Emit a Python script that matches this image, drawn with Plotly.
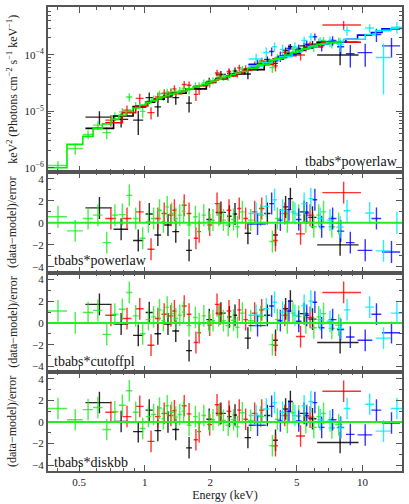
import plotly.graph_objects as go
from plotly.subplots import make_subplots

# --- spectral data (5 instruments) ---
# energy bin centre / half-width (keV), folded model, unfolded flux, flux error,
# then (data-model)/error for tbabs*powerlaw, tbabs*cutoffpl, tbabs*diskbb.

black_e = [0.62, 0.78, 0.935, 1.05, 1.15, 1.28, 1.39, 1.60, 1.98, 2.24, 2.45, 2.60, 2.98, 3.66, 3.99, 4.44, 4.67, 5.40, 5.90, 7.90]
black_de = [0.085, 0.06, 0.05, 0.04, 0.04, 0.05, 0.05, 0.05, 0.06, 0.12, 0.06, 0.06, 0.10, 0.12, 0.10, 0.12, 0.12, 0.25, 0.25, 1.70]
black_model = [5.0e-6, 8.3e-6, 1.2e-5, 1.45e-5, 1.65e-5, 1.9e-5, 2.1e-5, 2.5e-5, 3.25e-5, 3.8e-5, 4.25e-5, 4.6e-5, 5.5e-5, 7.4e-5, 8.4e-5, 9.8e-5, 1.06e-4, 1.28e-4, 1.43e-4, 1.68e-4]
black_flux = [7.9e-6, 7.2e-6, 7.0e-6, 1.75e-5, 1.2e-5, 1.82e-5, 1.75e-5, 1.4e-5, 3.4e-5, 4.5e-5, 4.7e-5, 5.2e-5, 4.6e-5, 8.3e-5, 7.1e-5, 1.2e-4, 1.4e-4, 1.45e-4, 1.55e-4, 1.0e-4]
black_flux_err = [2.1e-6, 2.0e-6, 3.2e-6, 4.0e-6, 4.0e-6, 4.2e-6, 4.4e-6, 4.5e-6, 5.5e-6, 7.0e-6, 7.5e-6, 8.0e-6, 9.0e-6, 1.1e-5, 1.2e-5, 1.5e-5, 1.6e-5, 1.9e-5, 2.2e-5, 3.4e-5]
black_res_pl = [1.36, -0.58, -1.6, 0.8, -1.1, -0.2, -0.8, -2.5, 0.3, 0.95, 0.6, 0.8, -0.95, 0.85, -1.1, 1.45, 2.2, 1.0, 0.5, -2.0]
black_res_cpl = [1.7, -0.1, -1.15, 0.95, -1.0, -0.1, -0.75, -2.55, 0.3, 0.9, 0.55, 0.7, -1.4, 0.7, -1.6, 1.3, 2.0, 0.85, 0.35, -1.8]
black_res_dbb = [1.8, 0.05, -0.9, 1.1, -0.8, 0.0, -0.7, -2.4, 0.25, 0.8, 0.5, 0.65, -1.45, 0.6, -1.7, 1.2, 1.9, 0.8, 0.3, -1.9]

red_e = [0.70, 0.83, 0.95, 1.07, 1.15, 1.23, 1.32, 1.37, 1.52, 1.60, 1.72, 1.78, 1.99, 2.15, 2.22, 2.44, 2.72, 2.91, 3.20, 3.45, 3.99, 4.40, 5.20, 5.75, 8.20]
red_de = [0.04, 0.04, 0.04, 0.04, 0.035, 0.035, 0.035, 0.03, 0.04, 0.04, 0.04, 0.035, 0.05, 0.05, 0.05, 0.06, 0.06, 0.07, 0.10, 0.10, 0.10, 0.15, 0.25, 0.25, 1.65]
red_model = [6.3e-6, 9.5e-6, 1.25e-5, 1.5e-5, 1.65e-5, 1.8e-5, 2.0e-5, 2.05e-5, 2.3e-5, 2.5e-5, 2.7e-5, 2.85e-5, 3.3e-5, 3.6e-5, 3.75e-5, 4.25e-5, 4.85e-5, 5.35e-5, 6.1e-5, 6.8e-5, 8.4e-5, 9.7e-5, 1.22e-4, 1.38e-4, 1.68e-4]
red_flux = [7.0e-6, 1.05e-5, 1.7e-5, 9.5e-6, 1.8e-5, 2.1e-5, 2.15e-5, 2.5e-5, 3.0e-5, 2.9e-5, 2.0e-5, 2.45e-5, 3.2e-5, 4.8e-5, 4.3e-5, 5.1e-5, 5.9e-5, 5.7e-5, 6.7e-5, 7.8e-5, 6.4e-5, 1.1e-4, 1.0e-4, 1.5e-4, 3.4e-4]
red_flux_err = [1.6e-6, 2.2e-6, 3.5e-6, 2.3e-6, 3.5e-6, 3.7e-6, 3.9e-6, 4.0e-6, 4.5e-6, 4.7e-6, 4.8e-6, 5.0e-6, 5.5e-6, 6.5e-6, 6.5e-6, 7.0e-6, 8.0e-6, 8.5e-6, 9.5e-6, 1.1e-5, 1.3e-5, 1.5e-5, 2.0e-5, 2.3e-5, 6.0e-5]
red_res_pl = [0.4, 0.4, 1.0, -2.4, 0.4, 0.85, 0.7, 1.15, 1.6, 0.85, -1.4, -0.8, -0.2, 1.75, 0.85, 1.15, 1.3, 0.4, 1.0, 1.3, -1.6, 0.85, -1.0, 0.7, 2.75]
red_res_cpl = [0.7, 0.4, 1.3, -2.05, 0.4, 0.8, 0.65, 1.1, 1.55, 0.8, -1.8, -0.9, -0.2, 1.7, 0.8, 1.1, 1.2, 0.3, 0.9, 1.2, -2.05, 0.7, -1.25, 0.5, 2.8]
red_res_dbb = [0.9, 0.5, 1.45, -1.8, 0.5, 0.8, 0.6, 1.05, 1.5, 0.75, -1.65, -0.9, -0.25, 1.6, 0.75, 1.0, 1.1, 0.25, 0.8, 1.1, -2.2, 0.6, -1.3, 0.45, 2.85]

green_e = [0.40, 0.48, 0.55, 0.61, 0.67, 0.73, 0.79, 0.85, 0.91, 0.98, 1.04, 1.10, 1.17, 1.22, 1.27, 1.33, 1.39, 1.45, 1.51, 1.60, 1.71, 1.78, 1.87, 1.98, 2.06, 2.19, 2.30, 2.42, 2.56, 2.67, 2.81, 3.07, 3.41, 3.86, 4.07, 4.52, 4.80, 5.10, 5.50, 5.98, 6.30, 6.63, 7.24, 7.78]
green_de = [0.04, 0.04, 0.03, 0.03, 0.03, 0.028, 0.028, 0.028, 0.028, 0.03, 0.028, 0.03, 0.03, 0.025, 0.025, 0.03, 0.03, 0.03, 0.03, 0.04, 0.04, 0.035, 0.045, 0.045, 0.045, 0.06, 0.06, 0.07, 0.07, 0.06, 0.07, 0.10, 0.12, 0.12, 0.11, 0.12, 0.13, 0.14, 0.18, 0.20, 0.15, 0.18, 0.25, 0.30]
green_model = [1.0e-6, 2.6e-6, 3.6e-6, 5.0e-6, 6.0e-6, 7.2e-6, 8.5e-6, 1.0e-5, 1.15e-5, 1.3e-5, 1.42e-5, 1.55e-5, 1.7e-5, 1.8e-5, 1.9e-5, 2.0e-5, 2.1e-5, 2.2e-5, 2.3e-5, 2.5e-5, 2.7e-5, 2.85e-5, 3.0e-5, 3.25e-5, 3.4e-5, 3.7e-5, 3.95e-5, 4.2e-5, 4.5e-5, 4.75e-5, 5.1e-5, 5.8e-5, 6.7e-5, 8.0e-5, 8.7e-5, 1.0e-4, 1.1e-4, 1.2e-4, 1.3e-4, 1.45e-4, 1.52e-4, 1.6e-4, 1.68e-4, 1.7e-4]
green_flux = [1.1e-6, 2.2e-6, 3.9e-6, 5.7e-6, 4.2e-6, 8.2e-6, 9.8e-6, 1.8e-5, 1.25e-5, 1.0e-5, 1.45e-5, 1.65e-5, 2.05e-5, 1.82e-5, 2.2e-5, 2.2e-5, 2.2e-5, 2.35e-5, 2.55e-5, 2.4e-5, 2.85e-5, 2.85e-5, 3.2e-5, 3.3e-5, 3.5e-5, 4.0e-5, 4.05e-5, 4.1e-5, 4.7e-5, 4.6e-5, 5.6e-5, 6.0e-5, 7.4e-5, 6.0e-5, 9.1e-5, 1.02e-4, 1.27e-4, 1.33e-4, 1.32e-4, 1.37e-4, 1.7e-4, 1.8e-4, 1.6e-4, 1.7e-4]
green_flux_err = [0.2e-6, 0.5e-6, 0.7e-6, 1.0e-6, 1.0e-6, 1.4e-6, 1.7e-6, 3.0e-6, 2.2e-6, 2.3e-6, 2.5e-6, 2.6e-6, 3.0e-6, 3.0e-6, 3.2e-6, 3.3e-6, 3.4e-6, 3.5e-6, 3.6e-6, 4.0e-6, 4.2e-6, 4.4e-6, 4.6e-6, 5.0e-6, 5.2e-6, 5.6e-6, 6.0e-6, 6.4e-6, 6.8e-6, 7.2e-6, 7.7e-6, 8.8e-6, 1.0e-5, 1.2e-5, 1.3e-5, 1.5e-5, 1.7e-5, 1.9e-5, 2.1e-5, 2.4e-5, 2.6e-5, 2.8e-5, 3.0e-5, 3.3e-5]
green_res_pl = [0.55, -0.73, 0.4, 0.7, -1.8, 0.7, 0.75, 2.5, 0.4, -1.4, 0.1, 0.4, 1.15, 0.1, 1.45, 0.85, 0.4, 0.7, 1.05, -0.2, 0.55, -0.05, 0.7, 0.1, 0.25, 0.7, 0.25, -0.2, 0.3, -0.35, 1.0, 0.25, 0.7, -1.7, 0.4, 0.1, 1.0, 0.7, 0.1, -0.35, 0.7, 1.0, -0.35, -0.05]
green_res_cpl = [1.1, 0.0, 0.95, 1.15, -1.05, 0.8, 1.25, 2.8, 0.65, -1.0, 0.3, 0.55, 1.2, 0.2, 1.45, 0.85, 0.4, 0.7, 1.0, -0.25, 0.5, -0.1, 0.65, 0.1, 0.2, 0.65, 0.2, -0.25, 0.25, -0.4, 0.9, 0.2, 0.6, -2.0, 0.3, 0.0, 0.9, 0.6, 0.0, -0.45, 0.55, 0.85, -0.5, -0.2]
green_res_dbb = [1.25, 0.2, 1.15, 1.35, -0.7, 0.95, 1.55, 2.9, 0.9, -0.6, 0.5, 0.7, 1.3, 0.3, 1.5, 0.9, 0.45, 0.7, 1.0, -0.3, 0.5, -0.1, 0.6, 0.05, 0.2, 0.6, 0.15, -0.3, 0.2, -0.45, 0.85, 0.15, 0.5, -2.2, 0.25, -0.05, 0.85, 0.55, -0.05, -0.5, 0.5, 0.8, -0.55, -0.25]

blue_e = [3.30, 3.83, 4.20, 4.60, 5.10, 5.55, 6.05, 6.50, 7.30, 7.95, 8.80, 10.3, 11.6, 13.6]
blue_de = [0.30, 0.10, 0.12, 0.12, 0.15, 0.15, 0.15, 0.20, 0.30, 0.30, 0.40, 0.80, 0.60, 1.30]
blue_model = [6.8e-5, 7.9e-5, 9.0e-5, 1.03e-4, 1.2e-4, 1.32e-4, 1.47e-4, 1.58e-4, 1.67e-4, 1.7e-4, 1.9e-4, 2.25e-4, 2.5e-4, 2.9e-4]
blue_flux = [6.7e-5, 1.15e-4, 9.5e-5, 1.3e-4, 1.27e-4, 1.55e-4, 2.1e-4, 1.47e-4, 1.8e-4, 1.4e-4, 1.05e-4, 1.1e-4, 2.3e-4, 1.45e-4]
blue_flux_err = [1.5e-5, 2.0e-5, 2.0e-5, 2.2e-5, 2.4e-5, 2.6e-5, 3.0e-5, 3.2e-5, 3.5e-5, 4.0e-5, 4.5e-5, 4.8e-5, 6.0e-5, 5.5e-5]
blue_res_pl = [-0.1, 1.75, 0.25, 1.2, 0.3, 0.9, 2.1, -0.35, 0.4, -0.75, -1.8, -2.5, 0.4, -2.65]
blue_res_cpl = [-0.25, 1.55, 0.2, 1.1, 0.15, 0.7, 1.9, -0.45, 0.3, -0.6, -1.3, -1.6, 0.8, -0.9]
blue_res_dbb = [-0.3, 1.45, 0.1, 1.0, 0.1, 0.6, 1.8, -0.5, 0.2, -0.5, -1.15, -1.2, 1.1, -0.1]

cyan_e = [3.25, 3.62, 3.95, 4.30, 4.90, 5.40, 5.80, 6.40, 7.10, 7.90, 8.50, 10.8, 12.5, 14.4]
cyan_de = [0.25, 0.12, 0.10, 0.12, 0.15, 0.15, 0.15, 0.20, 0.25, 0.30, 0.30, 0.50, 1.00, 0.90]
cyan_model = [6.4e-5, 7.3e-5, 8.2e-5, 9.3e-5, 1.13e-4, 1.28e-4, 1.4e-4, 1.55e-4, 1.65e-4, 1.72e-4, 1.9e-4, 2.3e-4, 2.7e-4, 2.95e-4]
cyan_flux = [8.5e-5, 1.1e-4, 1.4e-4, 1.25e-4, 1.38e-4, 1.8e-4, 2.1e-4, 1.7e-4, 1.75e-4, 1.55e-4, 2.7e-4, 3.0e-4, 9.0e-5, 3.1e-4]
cyan_flux_err = [2.0e-5, 2.5e-5, 2.7e-5, 2.8e-5, 3.0e-5, 3.0e-5, 3.2e-5, 3.5e-5, 3.8e-5, 4.2e-5, 5.0e-5, 5.0e-5, 7.0e-5, 7.0e-5]
cyan_res_pl = [0.85, 1.5, 2.1, 1.15, 0.85, 1.75, 2.2, 0.4, 0.25, -0.4, 1.1, 0.9, -2.55, 0.0]
cyan_res_cpl = [0.7, 1.3, 1.9, 1.0, 0.7, 1.6, 2.0, 0.3, 0.15, -0.5, 1.2, 1.45, -1.4, 0.9]
cyan_res_dbb = [0.6, 1.2, 1.8, 0.9, 0.6, 1.5, 1.9, 0.2, 0.1, -0.55, 1.25, 1.65, -0.85, 1.25]

MODEL_LABELS = ["tbabs*powerlaw", "tbabs*powerlaw", "tbabs*cutoffpl", "tbabs*diskbb"]
X_TICKS = [0.5, 1, 2, 5, 10]
X_MINOR = [0.4, 0.6, 0.7, 0.8, 0.9, 3, 4, 6, 7, 8, 9]
Y_TICKS = [1e-6, 1e-5, 1e-4]
Y_TICK_TEXT = ["10<sup>−6</sup>", "10<sup>−5</sup>", "10<sup>−4</sup>"]
Y_MINOR = [m * d for d in (1e-6, 1e-5, 1e-4) for m in range(2, 10)]
RES_TICKS = [-4, -2, 0, 2, 4]
RES_TICK_TEXT = ["−4", "−2", "0", "2", "4"]

FONT = "Liberation Serif"
FRAME = "#555555"

datasets = [
    ("rgba(0,0,0,0.85)", "#000000", black_e, black_de, black_model, black_flux, black_flux_err,
     [black_res_pl, black_res_cpl, black_res_dbb]),
    ("rgba(255,0,0,0.8)", "#ff0000", red_e, red_de, red_model, red_flux, red_flux_err,
     [red_res_pl, red_res_cpl, red_res_dbb]),
    ("rgba(30,235,30,0.8)", "#00ee00", green_e, green_de, green_model, green_flux, green_flux_err,
     [green_res_pl, green_res_cpl, green_res_dbb]),
    ("rgba(0,0,255,0.8)", "#0000ff", blue_e, blue_de, blue_model, blue_flux, blue_flux_err,
     [blue_res_pl, blue_res_cpl, blue_res_dbb]),
    ("rgba(0,235,255,0.85)", "#00e5ff", cyan_e, cyan_de, cyan_model, cyan_flux, cyan_flux_err,
     [cyan_res_pl, cyan_res_cpl, cyan_res_dbb]),
]

fig = make_subplots(rows=4, cols=1, shared_xaxes=True, vertical_spacing=0,
                    row_heights=[166, 101, 100, 99])

for col, line_col, e, de, model, flux, ferr, residuals in datasets:
    cross = dict(mode="markers", marker=dict(size=1, color=col), showlegend=False,
                 error_x=dict(type="data", array=de, width=0, thickness=1.4, color=col))
    fig.add_trace(go.Scatter(x=e, y=flux,
                             error_y=dict(type="data", array=ferr, width=0, thickness=1.4, color=col),
                             **cross), row=1, col=1)
    for i, res in enumerate(residuals):
        fig.add_trace(go.Scatter(x=e, y=res,
                                 error_y=dict(type="constant", value=1, width=0, thickness=1.4, color=col),
                                 **cross), row=i + 2, col=1)

# folded model as histogram steps on top of the data
for col, line_col, e, de, model, *_ in [datasets[i] for i in (0, 1, 3, 4, 2)]:
    edges = [c - d for c, d in zip(e, de)] + [e[-1] + de[-1]]
    fig.add_trace(go.Scatter(x=edges, y=model + [model[-1]], mode="lines", line_shape="hv",
                             line=dict(color=line_col, width=1.6), showlegend=False),
                  row=1, col=1)

for r in (2, 3, 4):
    fig.add_hline(y=0, line=dict(color="#22ee22", width=2), row=r, col=1)

axis_common = dict(showline=True, linecolor=FRAME, linewidth=2, mirror="allticks",
                   ticks="inside", ticklen=6, tickwidth=1, tickcolor=FRAME,
                   showgrid=False, zeroline=False,
                   tickfont=dict(family=FONT, size=11, color="#222"))

for r in range(1, 5):
    fig.update_xaxes(type="log", range=[-0.4437, 1.1818], tickmode="array",
                     tickvals=X_TICKS, ticktext=[str(t) for t in X_TICKS],
                     minor=dict(tickmode="array", tickvals=X_MINOR, ticks="inside", ticklen=3,
                                tickcolor=FRAME),
                     showticklabels=(r == 4), **axis_common, row=r, col=1)

fig.update_xaxes(title=dict(text="Energy (keV)", font=dict(family=FONT, size=12, color="#222"),
                            standoff=2), row=4, col=1)

fig.update_yaxes(type="log", range=[-6.08, -3.15], tickmode="array", tickvals=Y_TICKS,
                 ticktext=Y_TICK_TEXT,
                 minor=dict(tickmode="array", tickvals=Y_MINOR, ticks="inside", ticklen=3,
                            tickcolor=FRAME),
                 **axis_common, row=1, col=1)
for r in (2, 3, 4):
    fig.update_yaxes(range=[-4.55, 4.6], tickmode="array", tickvals=RES_TICKS,
                     ticktext=RES_TICK_TEXT,
                     minor=dict(tickmode="array", tickvals=[-3, -1, 1, 3], ticks="inside",
                                ticklen=3, tickcolor=FRAME),
                     **axis_common, row=r, col=1)

# y titles and model names placed by hand, XSPEC style
title_font = dict(family=FONT, size=12, color="#222")
for yc, text in [(0.822, "keV<sup>2</sup> (Photons cm<sup>−2</sup> s<sup>−1</sup> keV<sup>−1</sup>)"),
                 (0.535, "(data−model)/error"), (0.32, "(data−model)/error"),
                 (0.106, "(data−model)/error")]:
    fig.add_annotation(x=-0.101, y=yc, xref="paper", yref="paper", text=text,
                       textangle=-90, showarrow=False, xanchor="center", yanchor="middle",
                       font=title_font)

label_font = dict(family=FONT, size=14, color="#111")
fig.add_annotation(x=0.994, y=0.667, xref="paper", yref="paper", text=MODEL_LABELS[0],
                   showarrow=False, xanchor="right", yanchor="middle", font=label_font)
for yc, text in zip([0.453, 0.236, 0.019], MODEL_LABELS[1:]):
    fig.add_annotation(x=0.012, y=yc, xref="paper", yref="paper", text=text,
                       showarrow=False, xanchor="left", yanchor="middle", font=label_font)

fig.update_layout(width=409, height=504, margin=dict(l=48, r=5, t=5, b=33),
                  paper_bgcolor="white", plot_bgcolor="white", showlegend=False,
                  font=dict(family=FONT))

# the page's default body margin would push the 409x504 figure off the window
fig.write_html("out.html", config={"displayModeBar": False},
               post_script="document.body.style.margin='0';")
